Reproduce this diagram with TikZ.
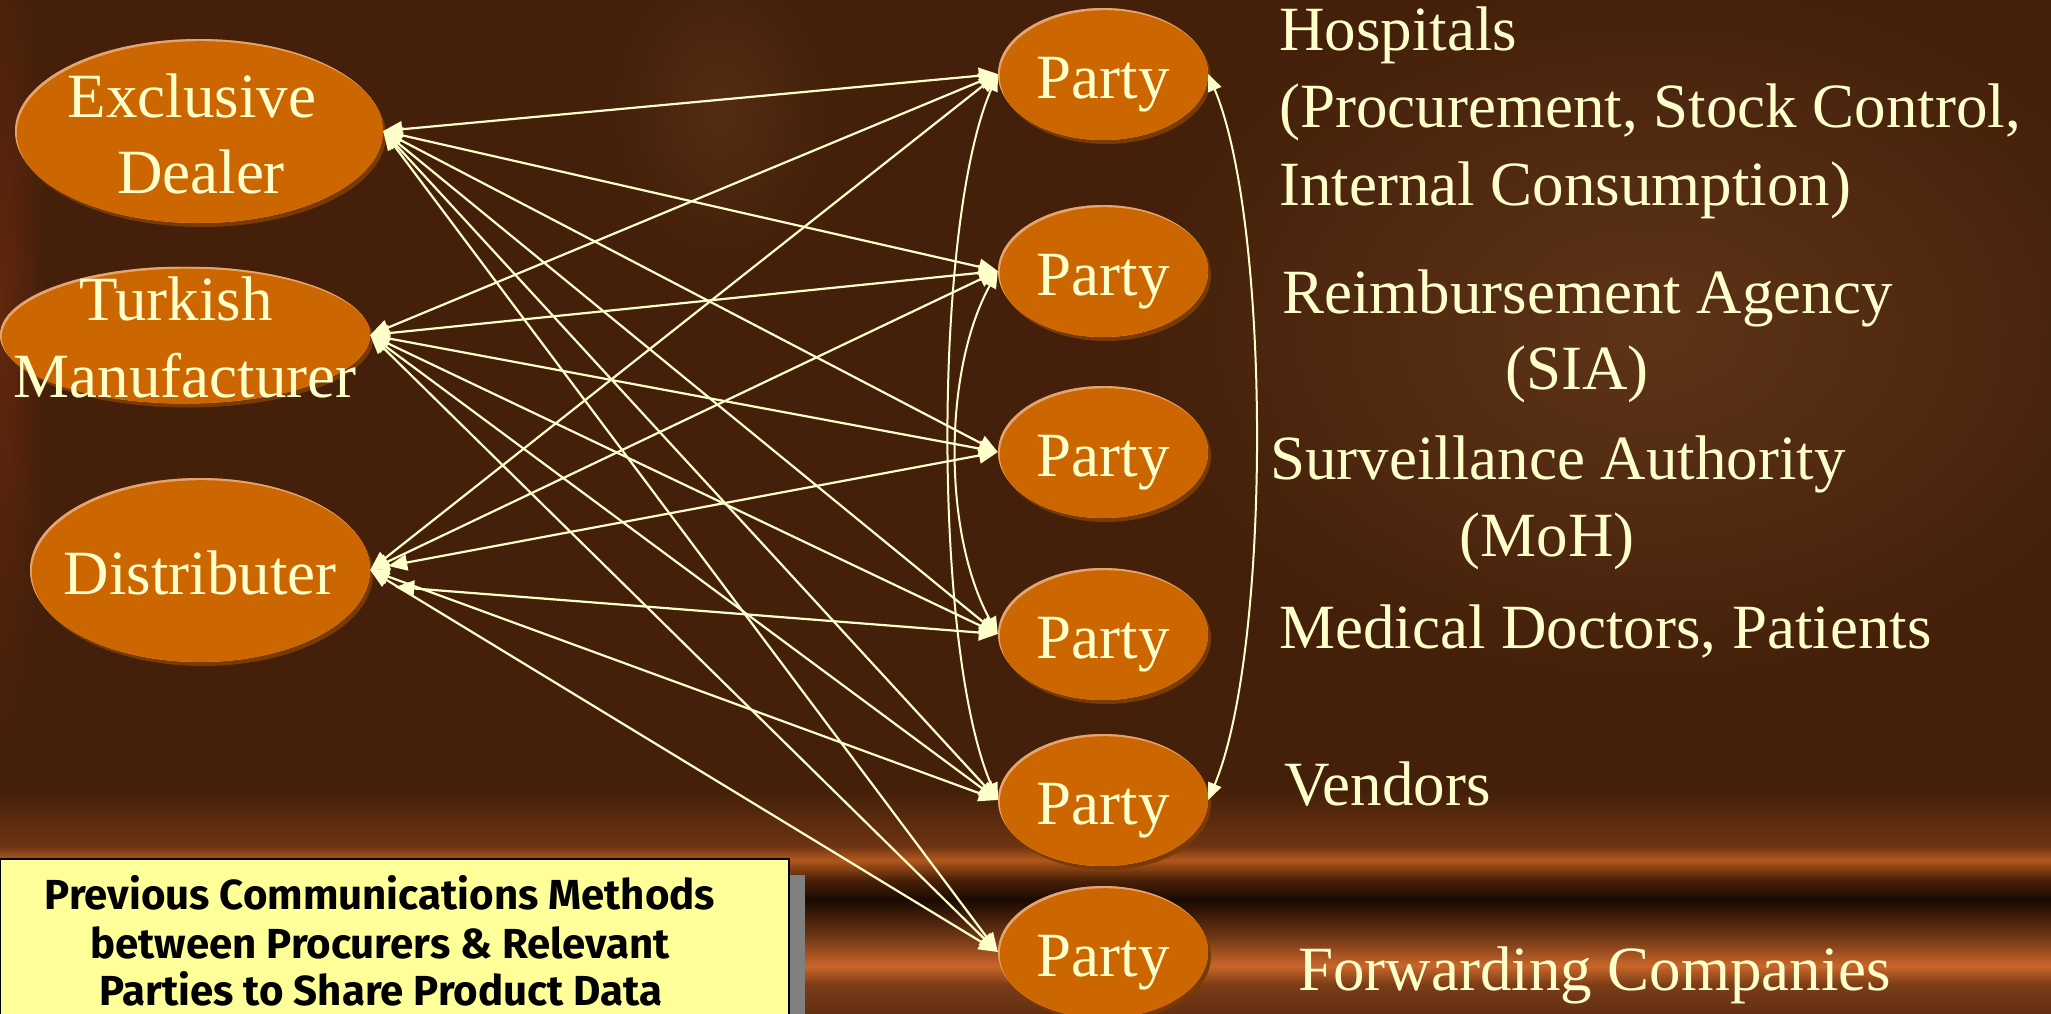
\documentclass[tikz,border=0pt]{standalone}
\usepackage{fontspec}
\setmainfont{Liberation Serif}
\newfontfamily\boxfont{Fira Sans}
\usetikzlibrary{arrows.meta,shapes.geometric,calc,shadows}
\definecolor{bgc}{HTML}{44200A}
\definecolor{orng}{HTML}{CC6600}
\definecolor{rimc}{HTML}{E3A474}
\definecolor{shadowc}{HTML}{7A3A06}
\definecolor{cream}{HTML}{FFFFCC}
\definecolor{boxy}{HTML}{FFFF99}
\definecolor{boxsh}{HTML}{808080}
\definecolor{redstreak}{HTML}{62260E}
\definecolor{glow}{HTML}{5E3418}
\definecolor{bandA}{HTML}{6E3412}
\definecolor{bandB}{HTML}{B0581C}
\definecolor{bandC}{HTML}{4A2008}
\definecolor{bandD}{HTML}{1A0A02}
\definecolor{bandE}{HTML}{6A3414}
\definecolor{bandF}{HTML}{C8662A}
\definecolor{bandG}{HTML}{7A3C16}
\definecolor{bandH}{HTML}{643012}
\begin{document}
\begin{tikzpicture}[x=1pt,y=1pt,
  oval/.style 2 args={ellipse, inner sep=0pt, minimum width=#1, minimum height=#2,
    fill=orng,
    drop shadow={shadow xshift=3pt, shadow yshift=-4pt, fill=shadowc, opacity=1},
    path picture={
      \fill[rimc] (path picture bounding box.south west) rectangle (path picture bounding box.north east);
      \fill[orng] ($(path picture bounding box.center)+(1.8,-2.2)$) ellipse [x radius=#1/2, y radius=#2/2];
    }},
  party/.style={oval={210pt}{132pt}},
  lbl/.style={text=cream, font=\fontsize{63}{77}\selectfont, inner sep=0pt},
  blbl/.style={text=black, font=\boxfont\bfseries\fontsize{42}{49}\selectfont, inner sep=0pt, anchor=base},
  link/.style={draw=cream, line width=2.2pt,
    {Triangle[length=19pt,width=16pt]}-{Triangle[length=19pt,width=16pt]}},
  clink/.style={draw=cream, line width=2pt,
    {Triangle[length=17pt,width=14pt]}-{Triangle[length=17pt,width=14pt]}},
]
\useasboundingbox (0,0) rectangle (2051,-1013);
% ---------- background ----------
\fill[bgc] (0,0) rectangle (2051,-1013);
\shade[inner color=glow, outer color=bgc] (1650,-330) ellipse [x radius=520, y radius=360];
\shade[inner color=glow!60!bgc, outer color=bgc] (720,-110) ellipse [x radius=110, y radius=150];
\shade[inner color=redstreak, outer color=bgc] (0,-320) ellipse [x radius=45, y radius=430];
\shade[top color=bgc, bottom color=bandA] (0,-790) rectangle (2051,-846);
\shade[top color=bandA, bottom color=bandB] (0,-846) rectangle (2051,-860);
\shade[top color=bandB, bottom color=bandC] (0,-860) rectangle (2051,-880);
\shade[top color=bandC, bottom color=bandD] (0,-880) rectangle (2051,-900);
\shade[top color=bandD, bottom color=bandE] (0,-900) rectangle (2051,-935);
\shade[top color=bandE, bottom color=bandF] (0,-935) rectangle (2051,-966);
\shade[top color=bandF, bottom color=bandG] (0,-966) rectangle (2051,-985);
\shade[top color=bandG, bottom color=bandH] (0,-985) rectangle (2051,-1013);
% ---------- left nodes ----------
\node[oval={368pt}{184pt}] (ed) at (199,-131) {};
\node[oval={370pt}{137pt}] (tm) at (185,-335) {};
\node[oval={340pt}{184pt}] (di) at (200,-570) {};
\node[lbl, anchor=base] (ed1) at (192,-117) {Exclusive};
\node[lbl, anchor=base] (ed2) at (201,-193) {Dealer};
\node[lbl, anchor=base] (tm1) at (176,-320) {Turkish};
\node[lbl, anchor=base] (tm2) at (185,-397) {Manufacturer};
\node[lbl, anchor=base] (di1) at (200,-594) {Distributer};
% ---------- party nodes ----------
\node[party] (p1) at (1103,-74) {};
\node[party] (p2) at (1103,-271) {};
\node[party] (p3) at (1103,-452) {};
\node[party] (p4) at (1103,-634) {};
\node[party] (p5) at (1103,-800) {};
\node[party] (p6) at (1103,-952) {};
\foreach \i in {1,...,6}{
  \node[lbl, anchor=base] (pt\i) at ($(p\i.center)+(0,-24)$) {Party};
}
% ---------- right labels ----------
\node[lbl, anchor=base west] (r1) at (1279,-50) {Hospitals};
\node[lbl, anchor=base west] (r2) at (1279,-127) {(Procurement, Stock Control,};
\node[lbl, anchor=base west] (r3) at (1279,-205) {Internal Consumption)};
\node[lbl, anchor=base west] (r4) at (1282,-313) {Reimbursement Agency};
\node[lbl, anchor=base] (r5) at (1577,-389) {(SIA)};
\node[lbl, anchor=base west] (r6) at (1270,-479) {Surveillance Authority};
\node[lbl, anchor=base] (r7) at (1547,-556) {(MoH)};
\node[lbl, anchor=base west] (r8) at (1279,-648) {Medical Doctors, Patients};
\node[lbl, anchor=base west] (r9) at (1284,-805) {Vendors};
\node[lbl, anchor=base west] (r10) at (1298,-990) {Forwarding Companies};
% ---------- connectors ----------
\coordinate (d3) at ($(di.east)+(18,4)$);
\coordinate (d4) at ($(di.east)+(25,-17)$);
\foreach \i in {1,...,6}{
  \draw[link] (ed.east) -- (p\i.west);
  \draw[link] (tm.east) -- (p\i.west);
}
\draw[link] (di.east) -- (p1.west);
\draw[link] (di.east) -- (p2.west);
\draw[link] (d3) -- (p3.west);
\draw[link] (d4) -- (p4.west);
\draw[link] (di.east) -- (p5.west);
\draw[link] (di.east) -- (p6.west);
\draw[clink] (p1.west) .. controls +(-65,-150) and +(-65,150) .. (p5.west);
\draw[clink] (p2.west) .. controls +(-55,-100) and +(-55,100) .. (p4.west);
\draw[clink] (p1.east) .. controls +(63,-150) and +(63,150) .. (p5.east);
% ---------- note box ----------
\node[draw=black, line width=2pt, fill=boxy, anchor=north west, inner sep=0pt,
      minimum width=789pt, minimum height=180pt,
      drop shadow={shadow xshift=16pt, shadow yshift=-16pt, fill=boxsh, opacity=1}] (box) at (-1,-858) {};
\node[blbl] (b1) at (380,-909) {Previous Communications Methods};
\node[blbl] (b2) at (380,-958) {between Procurers \& Relevant};
\node[blbl] (b3) at (381,-1005) {Parties to Share Product Data};
\end{tikzpicture}
\end{document}
